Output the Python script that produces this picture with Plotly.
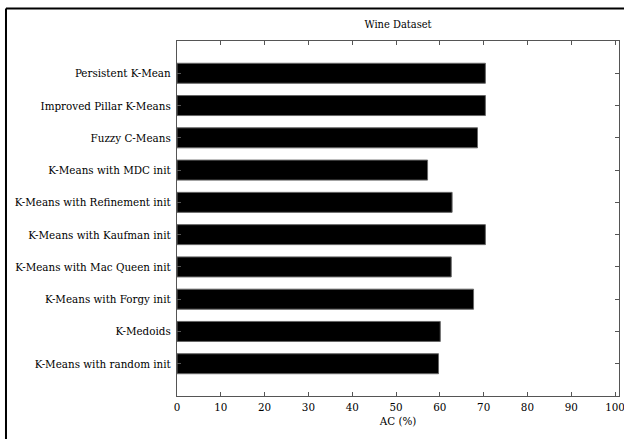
import plotly.graph_objects as go

# Clustering methods (top to bottom) and their accuracy on the Wine dataset
methods = [
    "Persistent K-Mean",
    "Improved Pillar K-Means",
    "Fuzzy C-Means",
    "K-Means with MDC init",
    "K-Means with Refinement init",
    "K-Means with Kaufman init",
    "K-Means with Mac Queen init",
    "K-Means with Forgy init",
    "K-Medoids",
    "K-Means with random init",
]
accuracy = [70.4, 70.4, 68.6, 57.2, 62.8, 70.4, 62.6, 67.7, 60.1, 59.7]
x_ticks = [0, 10, 20, 30, 40, 50, 60, 70, 80, 90, 100]

positions = list(range(1, len(methods) + 1))

font_family = "DejaVu Serif Condensed"
font_size = 11.5
axis_color = "#555555"

fig = go.Figure(
    go.Bar(
        x=accuracy,
        y=positions,
        orientation="h",
        width=0.62,
        marker=dict(color="black", line=dict(color="#666666", width=1)),
        hoverinfo="x+y",
    )
)

fig.update_layout(
    width=624,
    height=439,
    margin=dict(l=177, r=5, t=41, b=43, autoexpand=False),
    paper_bgcolor="white",
    plot_bgcolor="white",
    showlegend=False,
    font=dict(family=font_family, size=font_size, color="black"),
    title=dict(
        text="Wine Dataset",
        x=0.5,
        xref="paper",
        y=1,
        yref="paper",
        yanchor="bottom",
        pad=dict(b=13),
        font=dict(family=font_family, size=11, color="black"),
    ),
    xaxis=dict(
        range=[0, 100.9],
        tickvals=x_ticks,
        ticktext=[str(v) for v in x_ticks],
        ticks="inside",
        ticklen=4,
        tickcolor=axis_color,
        showline=True,
        linecolor=axis_color,
        linewidth=1,
        mirror="ticks",
        showgrid=False,
        zeroline=False,
        automargin=False,
        ticklabeloverflow="allow",
        title=dict(text="AC (%)", standoff=4, font=dict(family=font_family, size=font_size)),
        tickfont=dict(family=font_family, size=font_size),
    ),
    yaxis=dict(
        range=[11, 0],
        tickvals=positions,
        ticktext=methods,
        ticks="inside",
        ticklen=4,
        tickcolor=axis_color,
        showline=True,
        linecolor=axis_color,
        linewidth=1,
        mirror="ticks",
        showgrid=False,
        zeroline=False,
        automargin=False,
        tickfont=dict(family=font_family, size=font_size),
        ticklabelstandoff=3,
    ),
)

# Outer figure frame (left and top edges visible within the page)
fig.add_shape(
    type="line", xref="paper", yref="paper",
    x0=-0.3869, x1=-0.3869, y0=-0.5, y1=1.0915,
    line=dict(color="black", width=2),
)
fig.add_shape(
    type="line", xref="paper", yref="paper",
    x0=-0.3869, x1=1.5, y0=1.0915, y1=1.0915,
    line=dict(color="black", width=2),
)

fig.write_html("out.html")
